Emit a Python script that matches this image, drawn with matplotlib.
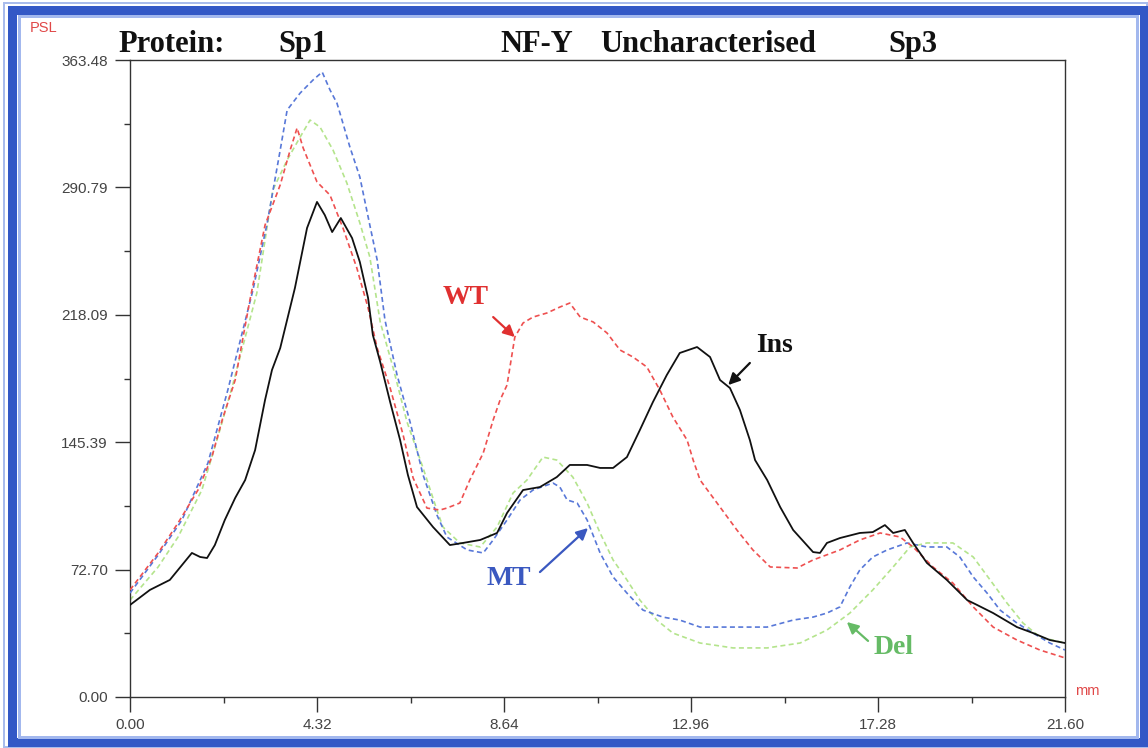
import matplotlib
matplotlib.use("Agg")
import matplotlib.pyplot as plt
from matplotlib.patches import Rectangle
from matplotlib.ticker import FixedLocator, FixedFormatter

# ---------------- data (x in mm, y in PSL) ----------------
ins_x = [0.00, 0.46, 0.92, 1.43, 1.62, 1.78, 1.96, 2.19, 2.43, 2.66, 2.89, 3.12, 3.28, 3.47,
         3.81, 4.09, 4.32, 4.50, 4.67, 4.87, 5.13, 5.31, 5.50, 5.61, 5.78, 6.01, 6.24, 6.42,
         6.63, 7.00, 7.39, 7.69, 8.09, 8.48, 8.71, 9.08, 9.47, 9.86, 10.16, 10.56, 10.86,
         11.16, 11.48, 11.78, 12.08, 12.40, 12.70, 13.10, 13.40, 13.63, 13.86, 14.09, 14.32,
         14.44, 14.72, 15.02, 15.32, 15.78, 15.94, 16.10, 16.40, 16.86, 17.16, 17.44, 17.63,
         17.90, 18.09, 18.41, 18.87, 19.34, 19.57, 19.94, 20.49, 20.86, 21.25, 21.60]
ins_y = [52.5, 61.1, 66.8, 82.2, 79.9, 79.3, 86.7, 101.0, 113.6, 123.8, 140.9, 169.5, 186.6, 199.1,
         233.4, 267.6, 282.5, 275.0, 265.3, 273.3, 261.9, 248.2, 227.7, 206.6, 191.2, 168.3, 146.6, 126.7,
         108.4, 97.0, 86.7, 87.9, 89.6, 93.6, 105.0, 118.1, 119.8, 125.5, 132.4, 132.4, 130.7,
         130.7, 136.9, 152.4, 168.3, 183.7, 196.3, 199.7, 194.0, 180.9, 176.3, 163.8, 146.6,
         135.2, 123.8, 108.4, 95.3, 82.7, 82.2, 87.9, 90.7, 93.6, 94.1, 98.1, 93.6,
         95.3, 87.9, 76.5, 66.8, 55.3, 52.5, 47.9, 39.9, 36.5, 32.5, 30.8]

wt_x = [0.00, 0.65, 1.11, 1.57, 1.89, 2.13, 2.43, 2.77, 3.12, 3.47, 3.70, 3.86, 4.00, 4.32, 4.62,
        4.92, 5.24, 5.50, 5.71, 6.01, 6.31, 6.54, 6.86, 7.16, 7.32, 7.62, 7.85, 8.16, 8.39, 8.55,
        8.71, 8.89, 9.08, 9.31, 9.63, 9.93, 10.16, 10.40, 10.70, 11.02, 11.32, 11.62, 11.94,
        12.24, 12.54, 12.87, 13.01, 13.17, 13.63, 14.02, 14.39, 14.79, 15.41, 15.78, 16.40,
        16.86, 17.33, 17.79, 18.09, 18.55, 19.01, 19.48, 19.94, 20.49, 21.02, 21.60]
wt_y = [61.1, 82.2, 99.3, 118.1, 136.9, 158.1, 180.9, 226.5, 269.3, 292.2, 312.1, 324.7, 313.3, 293.9, 286.4,
        267.6, 244.8, 222.0, 199.1, 176.3, 149.5, 125.0, 107.8, 106.7, 107.8, 110.7, 123.8, 139.2, 158.1, 169.5,
        178.0, 205.4, 213.4, 216.8, 219.1, 222.5, 224.8, 216.8, 214.0, 207.7, 198.0, 194.0, 188.3,
        175.2, 159.8, 146.6, 135.2, 123.8, 108.4, 95.3, 83.9, 74.2, 73.6, 78.2, 83.9,
        89.6, 93.6, 91.3, 85.6, 74.2, 65.0, 51.4, 39.9, 32.5, 26.8, 22.3]

mt_x = [0.00, 0.65, 1.20, 1.80, 2.26, 2.84, 3.17, 3.47, 3.63, 3.93, 4.23, 4.44, 4.62, 4.78, 4.85,
        5.08, 5.31, 5.54, 5.71, 5.89, 6.17, 6.47, 6.77, 7.09, 7.32, 7.79, 8.16, 8.39, 8.71, 9.01,
        9.31, 9.77, 9.93, 10.10, 10.33, 10.56, 10.86, 11.16, 11.48, 11.85, 12.31, 12.70, 13.17,
        13.93, 14.72, 15.32, 15.78, 16.10, 16.40, 16.63, 16.86, 17.16, 17.49, 17.95, 18.41,
        18.87, 19.17, 19.48, 19.80, 20.10, 20.49, 20.86, 21.25, 21.60]
mt_y = [59.3, 81.0, 101.0, 133.5, 175.2, 232.2, 270.5, 312.1, 334.9, 344.6, 352.1, 356.6, 346.4, 338.9, 333.2,
        313.8, 296.7, 269.3, 249.4, 215.1, 183.7, 156.9, 126.7, 103.9, 91.3, 83.9, 82.2, 89.6, 101.0, 112.4,
        118.1, 122.1, 119.8, 112.4, 110.7, 101.0, 82.2, 68.5, 59.3, 49.6, 45.6, 43.9, 39.9,
        39.9, 39.9, 43.9, 45.6, 47.9, 51.4, 62.8, 72.5, 79.9, 83.9, 87.9, 85.6,
        85.6, 79.9, 68.5, 59.3, 49.6, 42.2, 36.5, 30.8, 26.8]

del_x = [0.00, 0.65, 1.11, 1.66, 2.03, 2.36, 2.93, 3.30, 3.63, 3.93, 4.16, 4.39, 4.69, 5.01, 5.31,
         5.54, 5.78, 6.08, 6.40, 6.77, 7.09, 7.23, 7.62, 8.09, 8.48, 8.85, 9.17, 9.54, 9.86, 10.23,
         10.56, 10.86, 11.16, 11.48, 11.78, 12.17, 12.54, 13.17, 13.93, 14.72, 15.48, 16.10,
         16.63, 17.16, 17.63, 18.02, 18.41, 19.01, 19.48, 19.87, 20.26, 20.63, 21.02, 21.60]
del_y = [55.3, 74.2, 91.3, 118.1, 148.4, 176.9, 230.5, 289.3, 306.4, 319.5, 329.2, 325.2, 312.1, 293.3, 270.5,
         251.1, 214.0, 187.7, 156.9, 130.7, 106.7, 97.0, 87.9, 85.6, 97.0, 116.4, 123.8, 136.9, 135.2, 125.5,
         110.7, 93.6, 78.2, 66.8, 55.3, 43.9, 36.5, 30.8, 28.0, 28.0, 30.8, 38.2,
         47.9, 61.1, 74.2, 85.6, 87.9, 87.9, 79.9, 66.8, 53.6, 42.2, 34.2, 30.8]

x_ticks = [0.00, 4.32, 8.64, 12.96, 17.28, 21.60]
x_tick_labels = ["0.00", "4.32", "8.64", "12.96", "17.28", "21.60"]
y_ticks = [0.00, 72.70, 145.39, 218.09, 290.79, 363.48]
y_tick_labels = ["0.00", "72.70", "145.39", "218.09", "290.79", "363.48"]
proteins = ["Protein:", "Sp1", "NF-Y", "Uncharacterised", "Sp3"]

# ---------------- figure ----------------
W, H = 1148, 748
fig = plt.figure(figsize=(W / 100, H / 100), dpi=100)
fig.patch.set_facecolor("white")

def fx(px):
    return px / W

def fy(py):
    return (H - py) / H

ax = fig.add_axes([fx(130), fy(697), fx(1065) - fx(130), fy(60) - fy(697)])
ax.set_xlim(0, 21.60)
ax.set_ylim(0, 363.48)

dash = (0, (3, 2))
ax.plot(del_x, del_y, color="#b4e48c", lw=1.2, linestyle=dash, zorder=2)
ax.plot(mt_x, mt_y, color="#5878d8", lw=1.2, linestyle=dash, zorder=3)
ax.plot(wt_x, wt_y, color="#ee5050", lw=1.2, linestyle=dash, zorder=4)
ax.plot(ins_x, ins_y, color="#111111", lw=1.3, zorder=5)

# axes styling
for s in ax.spines.values():
    s.set_color("#333333")
    s.set_linewidth(1.0)
ax.xaxis.set_major_locator(FixedLocator(x_ticks))
ax.xaxis.set_major_formatter(FixedFormatter(x_tick_labels))
ax.yaxis.set_major_locator(FixedLocator(y_ticks))
ax.yaxis.set_major_formatter(FixedFormatter(y_tick_labels))
x_minor = [(a + b) / 2 for a, b in zip(x_ticks[:-1], x_ticks[1:])]
y_minor = [(a + b) / 2 for a, b in zip(y_ticks[:-1], y_ticks[1:])]
ax.xaxis.set_minor_locator(FixedLocator(x_minor))
ax.yaxis.set_minor_locator(FixedLocator(y_minor))
ax.tick_params(which="major", direction="out", length=11, width=1.0, color="#333333",
               labelsize=11, labelcolor="#444444", pad=4)
ax.tick_params(which="minor", direction="out", length=4.5, width=1.0, color="#333333")
ax.tick_params(axis="y", which="major", pad=5)
for lab in ax.get_xticklabels() + ax.get_yticklabels():
    lab.set_family(["Liberation Sans", "DejaVu Sans"])

# annotations
serif = ["Liberation Serif", "DejaVu Serif"]
def label(txt, tx, ty, tail, tip, color, tcolor):
    ax.text(tx, ty, txt, color=tcolor, fontsize=20, fontweight="bold", family=serif,
            ha="center", va="center", zorder=6)
    ax.annotate("", xy=tip, xytext=tail,
                arrowprops=dict(arrowstyle="-|>", color=color, lw=1.6, mutation_scale=17,
                                shrinkA=0, shrinkB=0), zorder=6)

label("WT", 7.76, 227.7, (8.39, 216.8), (8.89, 205.4), "#e03030", "#e03030")
label("Ins", 14.90, 200.3, (14.32, 190.6), (13.82, 178.0), "#111111", "#111111")
label("MT", 8.76, 67.9, (9.47, 71.3), (10.58, 96.4), "#3a58c0", "#3a58c0")
label("Del", 17.65, 28.5, (17.05, 32.0), (16.56, 42.8), "#66bb66", "#66bb66")

# header texts
title_x = [118, 278, 500, 600, 888]
for txt, px in zip(proteins, title_x):
    fig.text(fx(px), fy(52), txt, fontsize=22, fontweight="bold", family=serif,
             color="#111111", ha="left", va="baseline")

fig.text(fx(30), fy(28), "PSL", fontsize=10.5, color="#e04848",
         family=["Liberation Sans", "DejaVu Sans"], ha="left", va="center")
fig.text(fx(1075), fy(691), "mm", fontsize=10.5, color="#e04848",
         family=["Liberation Sans", "DejaVu Sans"], ha="left", va="center")

# blue frame
def frame(x0, y0, x1, y1, lw_px, color):
    fig.add_artist(Rectangle((fx(x0), fy(y1)), fx(x1) - fx(x0), fy(y0) - fy(y1),
                             transform=fig.transFigure, fill=False, edgecolor=color,
                             linewidth=lw_px * 0.72, zorder=10))

frame(4, 3, 1147, 747, 2, "#a9bcec")
frame(12, 9.5, 1144, 742, 9, "#3358c6")
frame(18.5, 16, 1137, 737, 3, "#a3b8ee")

fig.savefig("out.png", dpi=100)
